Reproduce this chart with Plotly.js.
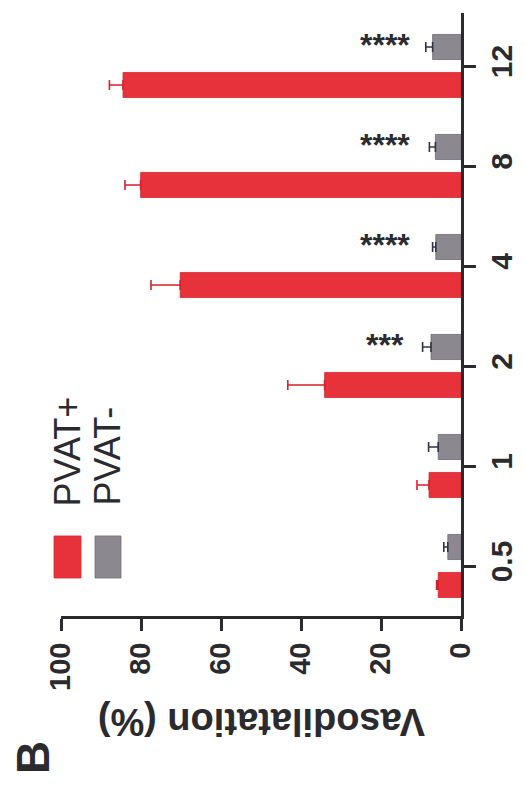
<!DOCTYPE html>
<html>
<head>
<meta charset="utf-8">
<script src="https://cdn.plot.ly/plotly-3.0.1.min.js"></script>
<style>html,body{margin:0;padding:0;background:#fff;}#chart{width:525px;height:789px;}</style>
</head>
<body>
<div id="chart"></div>
<script>
// Data
const categories = ["0.5", "1", "2", "4", "8", "12"];
const pvatPlus = [5.7, 8.0, 34.1, 70.2, 80.1, 84.5];
const pvatPlusErr = [0.4, 3.0, 9.2, 7.3, 3.9, 3.4];
const pvatMinus = [3.3, 5.7, 7.5, 6.3, 6.4, 7.1];
const pvatMinusErr = [1.0, 2.4, 2.1, 0.8, 1.5, 1.7];
const significance = ["", "", "***", "****", "****", "****"];
const valueTicks = [0, 20, 40, 60, 80, 100];
const seriesNames = ["PVAT+", "PVAT-"];

const FONT = "Liberation Sans, Arial, Helvetica, sans-serif";
const DARK = "#2b2b2f";
const RED = "#e8323b";
const GRAY = "#8b8890";

const zeros = categories.map(() => 0);

const traces = [
  {
    type: "bar", orientation: "h", name: seriesNames[0],
    y: categories, x: pvatPlus,
    marker: {color: RED, line: {color: "#d42a30", width: 0.8}},
    error_x: {type: "data", array: pvatPlusErr, arrayminus: zeros, symmetric: false,
              color: "#d8202c", thickness: 1.6, width: 5}
  },
  {
    type: "bar", orientation: "h", name: seriesNames[1],
    y: categories, x: pvatMinus,
    marker: {color: GRAY, line: {color: "#6f6c76", width: 0.8}},
    error_x: {type: "data", array: pvatMinusErr, arrayminus: zeros, symmetric: false,
              color: "#2f3440", thickness: 1.6, width: 5}
  }
];

const annotations = [];
categories.forEach((c, i) => {
  if (significance[i]) {
    annotations.push({
      xref: "x", yref: "y", x: 19, y: i, yshift: 21,
      text: "<b>" + significance[i] + "</b>", showarrow: false,
      font: {family: FONT, size: 32, color: DARK},
      xanchor: "center", yanchor: "middle"
    });
  }
});
// Axis title (upside down, as in the rotated figure)
annotations.push({
  xref: "paper", yref: "paper", x: 0.5025, y: -0.176,
  text: "<b>Vasodilatation (%)</b>", showarrow: false, textangle: 180,
  font: {family: FONT, size: 38, color: DARK}, xanchor: "center", yanchor: "middle"
});
// Panel letter
annotations.push({
  xref: "paper", yref: "paper", x: -0.07, y: -0.2355,
  text: "<b>B</b>", showarrow: false, textangle: -90,
  font: {family: FONT, size: 46, color: DARK}, xanchor: "center", yanchor: "middle"
});
// Legend labels
const legendX = [0.016, 0.1175];
seriesNames.forEach((n, i) => {
  annotations.push({
    xref: "paper", yref: "paper", x: legendX[i], y: 0.179,
    text: n, showarrow: false, textangle: -90,
    font: {family: FONT, size: 36, color: DARK}, xanchor: "center", yanchor: "bottom"
  });
});

const shapes = [
  {type: "rect", xref: "paper", yref: "paper", x0: -0.0175, x1: 0.05, y0: 0.063, y1: 0.1327,
   fillcolor: RED, line: {color: "#d42a30", width: 0.8}},
  {type: "rect", xref: "paper", yref: "paper", x0: 0.085, x1: 0.15, y0: 0.063, y1: 0.1327,
   fillcolor: GRAY, line: {color: "#6f6c76", width: 0.8}}
];

const layout = {
  width: 525, height: 789,
  margin: {l: 61, r: 64, t: 13, b: 173},
  paper_bgcolor: "#ffffff", plot_bgcolor: "#ffffff",
  showlegend: false,
  barmode: "group", bargap: 0.24, bargroupgap: 0.34,
  font: {family: FONT, color: DARK},
  xaxis: {
    range: [100, 0], tickvals: valueTicks, ticktext: valueTicks.map(String),
    tickangle: -90, showgrid: false, zeroline: false,
    showline: true, linecolor: DARK, linewidth: 3,
    ticks: "outside", ticklen: 12, tickwidth: 3, tickcolor: DARK,
    tickfont: {family: FONT, size: 29, color: DARK, weight: "bold"}
  },
  yaxis: {
    type: "category", side: "right", range: [-0.5, 5.53],
    tickangle: -90, showgrid: false, zeroline: false,
    showline: true, linecolor: DARK, linewidth: 3,
    ticks: "outside", ticklen: 12, tickwidth: 3, tickcolor: DARK,
    tickfont: {family: FONT, size: 30, color: DARK, weight: "bold"}
  },
  annotations: annotations,
  shapes: shapes
};

Plotly.newPlot("chart", traces, layout, {displayModeBar: false, staticPlot: true});
</script>
</body>
</html>
